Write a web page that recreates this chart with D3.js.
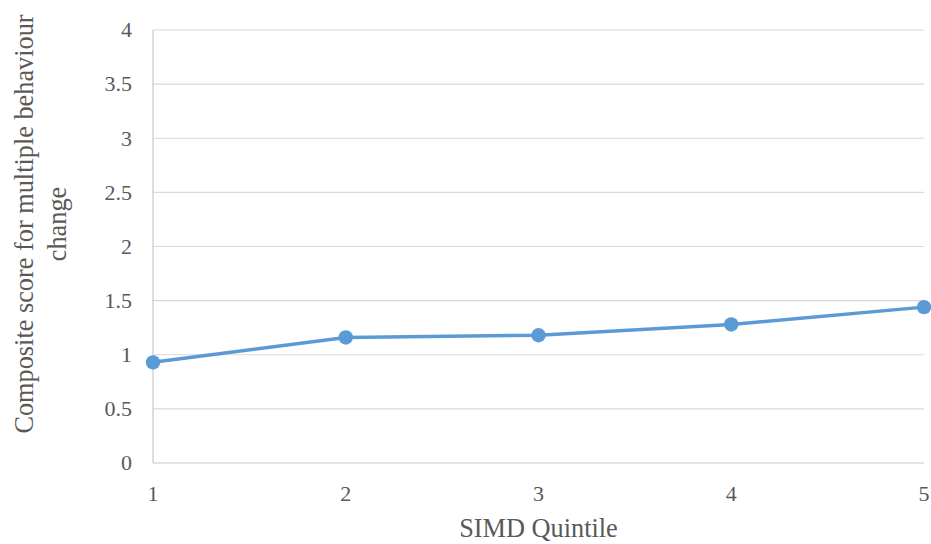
<!DOCTYPE html>
<html>
<head>
<meta charset="utf-8">
<script src="https://cdn.jsdelivr.net/npm/d3@7"></script>
<style>
  html, body { margin: 0; padding: 0; background: #fff; }
  svg { display: block; }
  svg text { font-family: 'Liberation Serif', 'Times New Roman', Times, serif; }
</style>
</head>
<body>
<svg id="chart" width="931" height="544"></svg>
<script>
// SIMD quintiles and their mean composite score
const quintiles = [1, 2, 3, 4, 5];
const scores = [0.93, 1.16, 1.18, 1.28, 1.44];
const yTicks = [0, 0.5, 1, 1.5, 2, 2.5, 3, 3.5, 4];
const xTitle = "SIMD Quintile";
const yTitleLines = ["Composite score for multiple behaviour", "change"];

const FONT = "'Liberation Serif', 'Times New Roman', Times, serif";
const svg = d3.select("#chart");
const margin = { left: 153, right: 7, top: 30, bottom: 81 };
const W = 931, H = 544;

const x = d3.scaleLinear().domain([1, 5]).range([margin.left, W - margin.right]);
const y = d3.scaleLinear().domain([0, 4]).range([H - margin.bottom, margin.top]);

// horizontal gridlines
svg.append("g")
  .selectAll("line")
  .data(yTicks.filter(d => d > 0))
  .join("line")
  .attr("x1", x(1)).attr("x2", x(5))
  .attr("y1", d => y(d)).attr("y2", d => y(d))
  .attr("stroke", "#d9d9d9").attr("stroke-width", 1.2);

// axis lines
svg.append("line")
  .attr("x1", x(1)).attr("x2", x(1))
  .attr("y1", y(0)).attr("y2", y(4))
  .attr("stroke", "#c8c8c8").attr("stroke-width", 1.2);
svg.append("line")
  .attr("x1", x(1)).attr("x2", x(5))
  .attr("y1", y(0)).attr("y2", y(0))
  .attr("stroke", "#c8c8c8").attr("stroke-width", 1.2);

// y tick labels
svg.append("g")
  .selectAll("text")
  .data(yTicks)
  .join("text")
  .attr("x", 132)
  .attr("y", d => y(d))
  .attr("dy", "0.33em")
  .attr("text-anchor", "end")
  .attr("font-family", FONT)
  .attr("font-size", 22)
  .attr("fill", "#595959")
  .text(d => d);

// x tick labels
svg.append("g")
  .selectAll("text")
  .data(quintiles)
  .join("text")
  .attr("x", d => x(d))
  .attr("y", 501)
  .attr("text-anchor", "middle")
  .attr("font-family", FONT)
  .attr("font-size", 22)
  .attr("fill", "#595959")
  .text(d => d);

// axis titles
svg.append("text")
  .attr("x", (x(1) + x(5)) / 2)
  .attr("y", 537)
  .attr("text-anchor", "middle")
  .attr("font-family", FONT)
  .attr("font-size", 26.3)
  .attr("fill", "#595959")
  .text(xTitle);

const yTitle = svg.append("text")
  .attr("transform", "translate(0,224) rotate(-90)")
  .attr("text-anchor", "middle")
  .attr("font-family", FONT)
  .attr("font-size", 26.3)
  .attr("fill", "#595959");
yTitle.selectAll("tspan")
  .data(yTitleLines)
  .join("tspan")
  .attr("x", 0)
  .attr("y", (d, i) => 33 + i * 33)
  .text(d => d);

// series line and markers
const line = d3.line()
  .x((d, i) => x(quintiles[i]))
  .y(d => y(d));

svg.append("path")
  .datum(scores)
  .attr("d", line)
  .attr("fill", "none")
  .attr("stroke", "#5b9bd5")
  .attr("stroke-width", 3.5)
  .attr("stroke-linejoin", "round");

svg.append("g")
  .selectAll("circle")
  .data(scores)
  .join("circle")
  .attr("cx", (d, i) => x(quintiles[i]))
  .attr("cy", d => y(d))
  .attr("r", 7.2)
  .attr("fill", "#5b9bd5");
</script>
</body>
</html>
